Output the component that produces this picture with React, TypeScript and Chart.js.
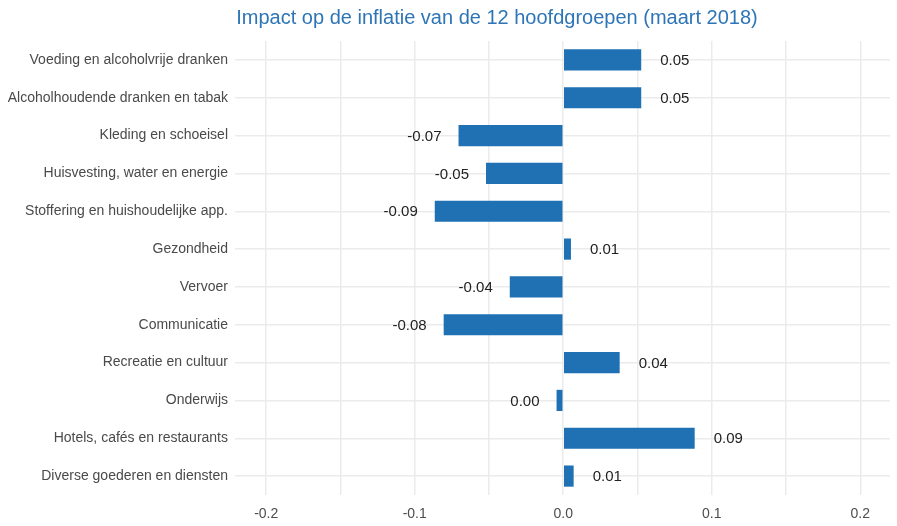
import React, { useEffect, useRef } from "react";
import { Chart, registerables } from "chart.js";

Chart.register(...registerables);

const TITLE = "Impact op de inflatie van de 12 hoofdgroepen (maart 2018)";
const categories = [
  "Voeding en alcoholvrije dranken",
  "Alcoholhoudende dranken en tabak",
  "Kleding en schoeisel",
  "Huisvesting, water en energie",
  "Stoffering en huishoudelijke app.",
  "Gezondheid",
  "Vervoer",
  "Communicatie",
  "Recreatie en cultuur",
  "Onderwijs",
  "Hotels, cafés en restaurants",
  "Diverse goederen en diensten",
];
const values = [0.0525, 0.0525, -0.0705, -0.052, -0.0865, 0.0052, -0.036, -0.0805, 0.038, -0.0045, 0.0885, 0.007];
const xMin = -0.221;
const xMax = 0.22;
const tickStep = 0.05;

const FONT = "'Liberation Sans', Arial, sans-serif";

const fmt = (v: number) => {
  const s = v.toFixed(2);
  return s === "-0.00" ? "0.00" : s;
};

const labelPlugin = {
  id: "barLabels",
  afterDatasetsDraw(chart: any) {
    const ctx = chart.ctx;
    const meta = chart.getDatasetMeta(0);
    ctx.save();
    ctx.font = "15px " + FONT;
    ctx.fillStyle = "#222222";
    ctx.textBaseline = "middle";
    meta.data.forEach((bar: any, i: number) => {
      const v = values[i];
      if (v >= 0) {
        ctx.textAlign = "left";
        ctx.fillText(fmt(v), bar.x + 19, bar.y + 1);
      } else {
        ctx.textAlign = "right";
        ctx.fillText(fmt(v), bar.x - 17, bar.y + 1);
      }
    });
    ctx.restore();
  },
};

const titlePlugin = {
  id: "customTitle",
  afterDraw(chart: any) {
    const ctx = chart.ctx;
    ctx.save();
    ctx.font = "20px " + FONT;
    ctx.fillStyle = "#2e75b6";
    ctx.textAlign = "center";
    ctx.textBaseline = "middle";
    ctx.fillText(TITLE, 497, 18);
    ctx.restore();
  },
};

export default function App() {
  const ref = useRef<HTMLCanvasElement>(null);
  useEffect(() => {
    if (!ref.current) return;
    const chart = new Chart(ref.current, {
      type: "bar",
      data: {
        labels: categories,
        datasets: [
          {
            data: values,
            backgroundColor: "#1f71b3",
            borderWidth: 0,
            barPercentage: 0.56,
            categoryPercentage: 1,
          },
        ],
      },
      options: {
        indexAxis: "y",
        animation: false,
        responsive: false,
        maintainAspectRatio: false,
        layout: { padding: { top: 41, right: 7, left: 0, bottom: 0 } },
        plugins: {
          legend: { display: false },
          title: { display: false },
          tooltip: { enabled: false },
        },
        scales: {
          x: {
            type: "linear",
            min: xMin,
            max: xMax,
            afterFit: (s: any) => {
              s.height = 31;
            },
            ticks: {
              stepSize: tickStep,
              includeBounds: false,
              autoSkip: false,
              maxRotation: 0,
              padding: 11,
              color: "#4d4d4d",
              font: { size: 14, family: FONT },
              callback: (v: any) => {
                const n = Number(v);
                const t = Math.round(n * 10);
                if (Math.abs(t - n * 10) < 1e-6) return (t / 10).toFixed(1).replace("-0.0", "0.0");
                return "";
              },
            },
            grid: { color: "#ebebeb", lineWidth: 1.5, drawTicks: false },
            border: { display: false },
          },
          y: {
            type: "category",
            afterFit: (s: any) => {
              s.width = 235;
            },
            ticks: {
              padding: 7,
              color: "#4a4a4a",
              autoSkip: false,
              font: { size: 14, family: FONT },
            },
            grid: { color: "#ebebeb", lineWidth: 1.5, offset: false, drawTicks: false },
            border: { display: false },
          },
        },
      },
      plugins: [labelPlugin, titlePlugin],
    });
    return () => chart.destroy();
  }, []);
  return (
    <div style={{ position: "fixed", left: 0, top: 0, width: 897, height: 526, background: "#fff" }}>
      <canvas ref={ref} width={897} height={526} />
    </div>
  );
}
